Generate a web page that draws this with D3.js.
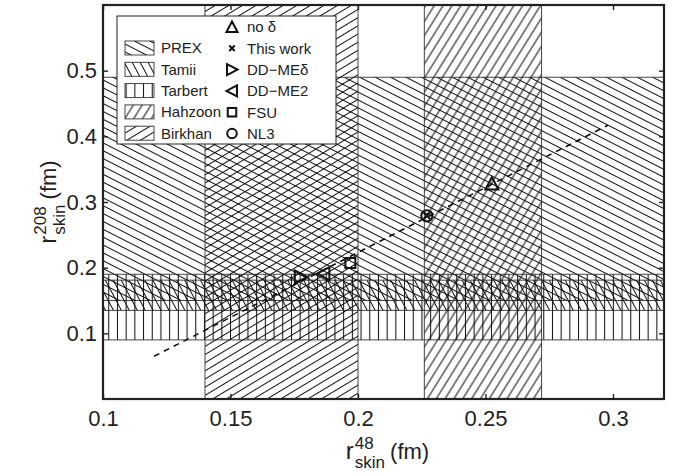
<!DOCTYPE html>
<html>
<head>
<meta charset="utf-8">
<script src="https://cdn.jsdelivr.net/npm/d3@7"></script>
<style>
  body { margin: 0; background: #fff; }
  svg { font-family: "Liberation Sans", Arial, sans-serif; }
</style>
</head>
<body>
<div class="wrapper"></div>
<script>
// bands (experimental constraints)
const bandNames = ["PREX", "Tamii", "Tarbert", "Hahzoon", "Birkhan"];
const bandAxis = ["y", "y", "y", "x", "x"];
const bandLo = [0.15, 0.135, 0.09, 0.226, 0.14];
const bandHi = [0.49, 0.181, 0.19, 0.272, 0.20];

// model points
const modelNames = ["no δ", "This work", "DD\u2212MEδ", "DD\u2212ME2", "FSU", "NL3"];
const modelX = [0.2525, 0.227, 0.1775, 0.1865, 0.197, 0.227];
const modelY = [0.328, 0.279, 0.186, 0.191, 0.207, 0.279];

// dashed correlation line
const lineX = [0.12, 0.298];
const lineY = [0.065, 0.417];

const xTicks = [0.1, 0.15, 0.2, 0.25, 0.3];
const xTickLabels = ["0.1", "0.15", "0.2", "0.25", "0.3"];
const yTicks = [0.1, 0.2, 0.3, 0.4, 0.5];
const yTickLabels = ["0.1", "0.2", "0.3", "0.4", "0.5"];

const width = 683, height = 476;
const ink = "#222";

const svg = d3.select(".wrapper").append("svg")
  .attr("width", width)
  .attr("height", height);

const x = d3.scaleLinear().domain([0.1, 0.32]).range([103, 664]);
const y = d3.scaleLinear().domain([0, 0.6]).range([399, 5]);

////// hatch patterns //////
const hatch = {
  PREX: { angle: 27, gap: 7 },
  Tamii: { angle: 62, gap: 7 },
  Tarbert: { angle: 90, gap: 8.7 },
  Hahzoon: { angle: -58, gap: 7.5 },
  Birkhan: { angle: -31, gap: 7 }
};

const defs = svg.append("defs");
bandNames.forEach(name => {
  const h = hatch[name];
  const p = defs.append("pattern")
    .attr("id", "hatch-" + name)
    .attr("patternUnits", "userSpaceOnUse")
    .attr("width", 10)
    .attr("height", h.gap)
    .attr("patternTransform", "rotate(" + h.angle + ")");
  p.append("line")
    .attr("x1", -1).attr("x2", 11)
    .attr("y1", h.gap / 2).attr("y2", h.gap / 2)
    .attr("stroke", "#111")
    .attr("stroke-width", 1.05);
});

defs.append("clipPath").attr("id", "plotclip")
  .append("rect")
  .attr("x", x(0.1)).attr("y", y(0.6))
  .attr("width", x(0.32) - x(0.1))
  .attr("height", y(0) - y(0.6));

////// bands //////
const bands = svg.append("g").attr("clip-path", "url(#plotclip)");
bandNames.forEach((name, i) => {
  let rx, ry, rw, rh;
  if (bandAxis[i] === "y") {
    rx = x(0.1); rw = x(0.32) - x(0.1);
    ry = y(bandHi[i]); rh = y(bandLo[i]) - y(bandHi[i]);
  } else {
    ry = y(0.6); rh = y(0) - y(0.6);
    rx = x(bandLo[i]); rw = x(bandHi[i]) - x(bandLo[i]);
  }
  bands.append("rect")
    .attr("x", rx).attr("y", ry)
    .attr("width", rw).attr("height", rh)
    .attr("fill", "url(#hatch-" + name + ")")
    .attr("stroke", "#333")
    .attr("stroke-width", 0.9);
});

////// dashed line //////
svg.append("line")
  .attr("x1", x(lineX[0])).attr("y1", y(lineY[0]))
  .attr("x2", x(lineX[1])).attr("y2", y(lineY[1]))
  .attr("stroke", "#111")
  .attr("stroke-width", 1.6)
  .attr("stroke-dasharray", "6,5");

////// markers //////
function marker(g, i, cx, cy, scale) {
  const s = scale || 1;
  const h = 6.5 * s;
  const common = sel => sel
    .attr("fill", "none")
    .attr("stroke", "#111")
    .attr("stroke-width", 2)
    .attr("stroke-linejoin", "miter");
  const poly = p => "M" + p.map(q => (cx + q[0]) + "," + (cy + q[1])).join("L") + "Z";
  if (i === 0) {
    g.append("path").attr("d", poly([[-h, h * 0.9], [0, -h], [h, h * 0.9]])).call(common);
  } else if (i === 1) {
    const r = 3.2 * s;
    g.append("path")
      .attr("d", "M" + (cx - r) + "," + (cy - r) + "L" + (cx + r) + "," + (cy + r) +
        "M" + (cx - r) + "," + (cy + r) + "L" + (cx + r) + "," + (cy - r))
      .call(common);
  } else if (i === 2) {
    g.append("path").attr("d", poly([[-h * 0.9, -h], [h, 0], [-h * 0.9, h]])).call(common);
  } else if (i === 3) {
    g.append("path").attr("d", poly([[h * 0.9, -h], [-h, 0], [h * 0.9, h]])).call(common);
  } else if (i === 4) {
    g.append("path").attr("d", d3.symbol(d3.symbolSquare, 100 * s * s)())
      .attr("transform", "translate(" + cx + "," + cy + ")").call(common);
  } else {
    g.append("circle").attr("cx", cx).attr("cy", cy).attr("r", 5.6 * s).call(common);
  }
}

const pts = svg.append("g");
modelNames.forEach((m, i) => marker(pts, i, x(modelX[i]), y(modelY[i]), 1));

////// axes //////
const fmtX = d => xTickLabels[xTicks.indexOf(d)];
const fmtY = d => yTickLabels[yTicks.indexOf(d)];

function styleAxis(g) {
  g.select(".domain").remove();
  g.selectAll(".tick line").attr("stroke", ink).attr("stroke-width", 1.4);
  g.selectAll("text").attr("fill", ink).style("font-size", "22px");
}

svg.append("g")
  .attr("transform", "translate(0," + y(0) + ")")
  .call(d3.axisBottom(x).tickValues(xTicks).tickFormat(fmtX).tickSize(-5).tickPadding(11))
  .call(styleAxis);
svg.append("g")
  .attr("transform", "translate(0," + y(0.6) + ")")
  .call(d3.axisTop(x).tickValues(xTicks).tickFormat("").tickSize(-5))
  .call(styleAxis);
svg.append("g")
  .attr("transform", "translate(" + x(0.1) + ",0)")
  .call(d3.axisLeft(y).tickValues(yTicks).tickFormat(fmtY).tickSize(-5).tickPadding(6))
  .call(styleAxis);
svg.append("g")
  .attr("transform", "translate(" + x(0.32) + ",0)")
  .call(d3.axisRight(y).tickValues(yTicks).tickFormat("").tickSize(-5))
  .call(styleAxis);

svg.append("rect")
  .attr("x", x(0.1)).attr("y", y(0.6))
  .attr("width", x(0.32) - x(0.1))
  .attr("height", y(0) - y(0.6))
  .attr("fill", "none")
  .attr("stroke", ink)
  .attr("stroke-width", 2.2);

////// axis titles //////
function richLabel(g, sup, sub) {
  const r = g.append("text").attr("x", 0).attr("y", 0)
    .style("font-size", "24px").attr("fill", ink).text("r");
  const w = r.node().getComputedTextLength() + 1;
  const a = g.append("text").attr("x", w).attr("y", -10)
    .style("font-size", "17px").attr("fill", ink).text(sup);
  const b = g.append("text").attr("x", w).attr("y", 9)
    .style("font-size", "17px").attr("fill", ink).text(sub);
  const w2 = w + Math.max(a.node().getComputedTextLength(), b.node().getComputedTextLength()) + 5;
  const c = g.append("text").attr("x", w2).attr("y", 0)
    .style("font-size", "22px").attr("fill", ink).text("(fm)");
  const total = w2 + c.node().getComputedTextLength();
  g.selectAll("text").attr("x", function () { return +d3.select(this).attr("x") - total / 2; });
}

richLabel(svg.append("g").attr("transform", "translate(" + ((x(0.1) + x(0.32)) / 2 + 4) + ",459)"), "48", "skin");
richLabel(svg.append("g").attr("transform", "translate(56,202) rotate(-90)"), "208", "skin");

////// legend //////
const leg = svg.append("g");
leg.append("rect")
  .attr("x", 117).attr("y", 16)
  .attr("width", 219).attr("height", 128)
  .attr("fill", "#fff")
  .attr("stroke", ink)
  .attr("stroke-width", 1);

const rowH = 21.3;
bandNames.forEach((name, i) => {
  const cy = 48 + i * rowH;
  leg.append("rect")
    .attr("x", 125).attr("y", cy - 7)
    .attr("width", 29).attr("height", 14)
    .attr("fill", "url(#hatch-" + name + ")")
    .attr("stroke", "#333")
    .attr("stroke-width", 0.9);
  leg.append("text")
    .attr("x", 161).attr("y", cy)
    .attr("dy", "0.36em")
    .style("font-size", "15px")
    .attr("fill", ink)
    .text(name);
});

modelNames.forEach((m, i) => {
  const cy = 27 + i * rowH;
  marker(leg, i, 232, cy, 0.85);
  leg.append("text")
    .attr("x", 247).attr("y", cy)
    .attr("dy", "0.36em")
    .style("font-size", "15px")
    .attr("fill", ink)
    .text(m);
});
</script>
</body>
</html>
